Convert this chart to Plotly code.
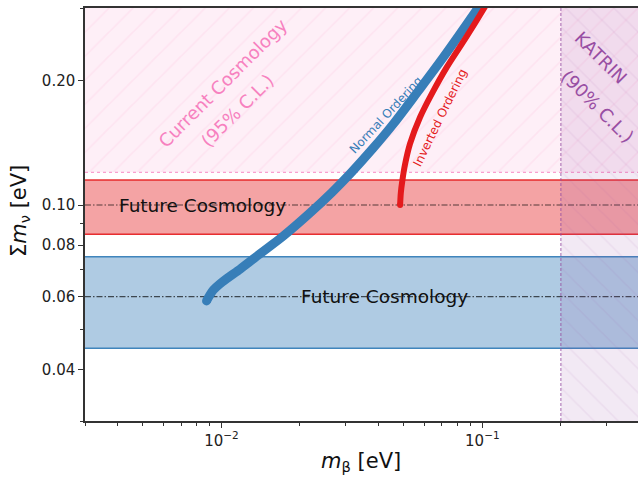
import numpy as np
import plotly.graph_objects as go

# ---------------- data ----------------
# Normal ordering curve: m_beta [eV] vs sum of masses [eV]
no_mbeta = [0.00877, 0.0093, 0.0101, 0.0118, 0.0133, 0.0174, 0.0218, 0.0265, 0.0313, 0.0381, 0.0459, 0.0567, 0.0706, 0.0955, 0.1055]
no_sum = [0.0586, 0.0622, 0.0652, 0.0700, 0.0742, 0.0845, 0.0956, 0.1073, 0.1195, 0.1372, 0.1580, 0.1885, 0.2271, 0.2979, 0.3268]

# Inverted ordering curve
io_mbeta = [0.0484, 0.0487, 0.0494, 0.0505, 0.0528, 0.0577, 0.0640, 0.0730, 0.0871, 0.1010, 0.1120]
io_sum = [0.1000, 0.1070, 0.1150, 0.1250, 0.1406, 0.1631, 0.1858, 0.2154, 0.2560, 0.2980, 0.3330]

x_limits = [0.003, 0.395]
y_limits = [0.03, 0.30]

cosmo_bound = 0.12          # current cosmology upper limit (95% C.L.)
katrin_bound = 0.2          # KATRIN (90% C.L.)
future_centers = [0.10, 0.06]
future_halfwidth = 0.015

x_major = [0.01, 0.1]
x_major_text = ["10<sup>\u22122</sup>", "10<sup>\u22121</sup>"]
x_minor = [0.003, 0.004, 0.005, 0.006, 0.007, 0.008, 0.009,
           0.02, 0.03, 0.04, 0.05, 0.06, 0.07, 0.08, 0.09, 0.2, 0.3]
y_major = [0.04, 0.06, 0.08, 0.10, 0.20]
y_major_text = ["0.04", "0.06", "0.08", "0.10", "0.20"]
y_minor = [0.03, 0.05, 0.07, 0.09, 0.3]

BLUE = "#377eb8"
RED = "#e41a1c"
PINK = "247,129,191"
PURPLE = "152,78,163"
FONT = "DejaVu Sans"

x0, x1 = x_limits
y0, y1 = y_limits

fig = go.Figure()

# Future cosmology bands
band_fill = ["rgba(228,26,28,0.4)", "rgba(55,126,184,0.4)"]
band_edge = ["rgba(228,26,28,0.9)", "rgba(55,126,184,0.95)"]
for c, fc, ec in zip(future_centers, band_fill, band_edge):
    lo, hi = c - future_halfwidth, c + future_halfwidth
    fig.add_trace(go.Scatter(x=[x0, x1, x1, x0, x0], y=[lo, lo, hi, hi, lo],
                             mode="lines", line=dict(width=0), fill="toself",
                             fillcolor=fc, hoverinfo="skip"))
    for edge in (lo, hi):
        fig.add_trace(go.Scatter(x=[x0, x1], y=[edge, edge], mode="lines",
                                 line=dict(color=ec, width=1.5), hoverinfo="skip"))
    fig.add_trace(go.Scatter(x=[x0, x1], y=[c, c], mode="lines",
                             line=dict(color="rgba(0,0,0,0.65)", width=1.1,
                                       dash="6px,2px,1.5px,2px"),
                             hoverinfo="skip"))

# Current cosmology excluded region (hatched)
fig.add_trace(go.Scatter(x=[x0, x1, x1, x0, x0],
                         y=[cosmo_bound, cosmo_bound, y1, y1, cosmo_bound],
                         mode="lines", line=dict(width=0), fill="toself",
                         fillcolor=f"rgba({PINK},0.12)",
                         fillpattern=dict(shape="/", size=17, solidity=0.09,
                                          fgcolor=f"rgba({PINK},0.22)",
                                          bgcolor=f"rgba({PINK},0.12)"),
                         hoverinfo="skip"))
fig.add_trace(go.Scatter(x=[x0, x1], y=[cosmo_bound, cosmo_bound], mode="lines",
                         line=dict(color=f"rgba({PINK},0.75)", width=1.2, dash="dot"),
                         hoverinfo="skip"))

# KATRIN excluded region (hatched)
fig.add_trace(go.Scatter(x=[katrin_bound, x1, x1, katrin_bound, katrin_bound],
                         y=[y0, y0, y1, y1, y0],
                         mode="lines", line=dict(width=0), fill="toself",
                         fillcolor=f"rgba({PURPLE},0.12)",
                         fillpattern=dict(shape="\\", size=17, solidity=0.09,
                                          fgcolor=f"rgba({PURPLE},0.16)",
                                          bgcolor=f"rgba({PURPLE},0.12)"),
                         hoverinfo="skip"))
fig.add_trace(go.Scatter(x=[katrin_bound, katrin_bound], y=[y0, y1], mode="lines",
                         line=dict(color=f"rgba({PURPLE},0.85)", width=1, dash="3px,2px"),
                         hoverinfo="skip"))

# Ordering curves
fig.add_trace(go.Scatter(x=no_mbeta, y=no_sum, mode="lines",
                         line=dict(color=BLUE, width=9, shape="spline", smoothing=0.8),
                         hoverinfo="skip"))
fig.add_trace(go.Scatter(x=no_mbeta[:1], y=no_sum[:1], mode="markers",
                         marker=dict(color=BLUE, size=9), hoverinfo="skip"))
fig.add_trace(go.Scatter(x=io_mbeta, y=io_sum, mode="lines",
                         line=dict(color=RED, width=6, shape="spline", smoothing=0.8),
                         hoverinfo="skip"))
fig.add_trace(go.Scatter(x=io_mbeta[:1], y=io_sum[:1], mode="markers",
                         marker=dict(color=RED, size=6), hoverinfo="skip"))

# ---------------- text ----------------
W, H = 638, 479
L, R, T, B = 85, 0, 8, 58
pw, ph = W - L - R, H - T - B


def px(xp, yp):
    return (xp - L) / pw, (H - B - yp) / ph


def note(text, xp, yp, size, color, angle=0):
    ax, ay = px(xp, yp)
    fig.add_annotation(text=text, x=ax, y=ay, xref="paper", yref="paper",
                       showarrow=False, textangle=angle, xanchor="center",
                       yanchor="middle", font=dict(family=FONT, size=size, color=color))


note("Current Cosmology", 222, 83, 18, f"rgb({PINK})", -45)
note("(95% C.L.)", 237, 110, 18, f"rgb({PINK})", -45)
note("KATRIN", 601, 57, 18, f"rgb({PURPLE})", 45)
note("(90% C.L.)", 598, 106, 18, f"rgb({PURPLE})", 45)
note("Normal Ordering", 386, 115, 12, BLUE, -47)
note("Inverted Ordering", 440, 118, 12, RED, -64)
note("Future Cosmology", 202, 205, 18.5, "#111111")
note("Future Cosmology", 384, 296, 18.5, "#111111")
note("<i>m</i><sub>\u03b2</sub> [eV]", 361, 462, 21, "#111111")
note("\u03a3<i>m</i><sub>\u03bd</sub> [eV]", 20, 211, 21, "#111111", -90)

axis_common = dict(type="log", showgrid=False, zeroline=False, automargin=False,
                   showline=True, linecolor="#333333", linewidth=1.5,
                   ticks="outside", ticklen=5, tickwidth=1.2, tickcolor="#333333",
                   tickfont=dict(family=FONT, size=15, color="#222222"))

fig.update_layout(
    width=W, height=H, margin=dict(l=L, r=R, t=T, b=B, autoexpand=False),
    paper_bgcolor="white", plot_bgcolor="white", showlegend=False,
    xaxis=dict(range=[np.log10(x0), np.log10(x1)], tickmode="array",
               tickvals=x_major, ticktext=x_major_text, mirror=True,
               minor=dict(tickmode="array", tickvals=x_minor, ticks="outside",
                          ticklen=3, tickwidth=1, tickcolor="#333333", showgrid=False),
               **axis_common),
    yaxis=dict(range=[np.log10(y0), np.log10(y1)], tickmode="array",
               tickvals=y_major, ticktext=y_major_text, mirror=False,
               minor=dict(tickmode="array", tickvals=y_minor, ticks="outside",
                          ticklen=3, tickwidth=1, tickcolor="#333333", showgrid=False),
               **axis_common),
)

fig.write_html(
    "out.html",
    config={"responsive": False, "displayModeBar": False},
    post_script="document.body.style.margin='0';document.body.style.overflow='hidden';",
)
